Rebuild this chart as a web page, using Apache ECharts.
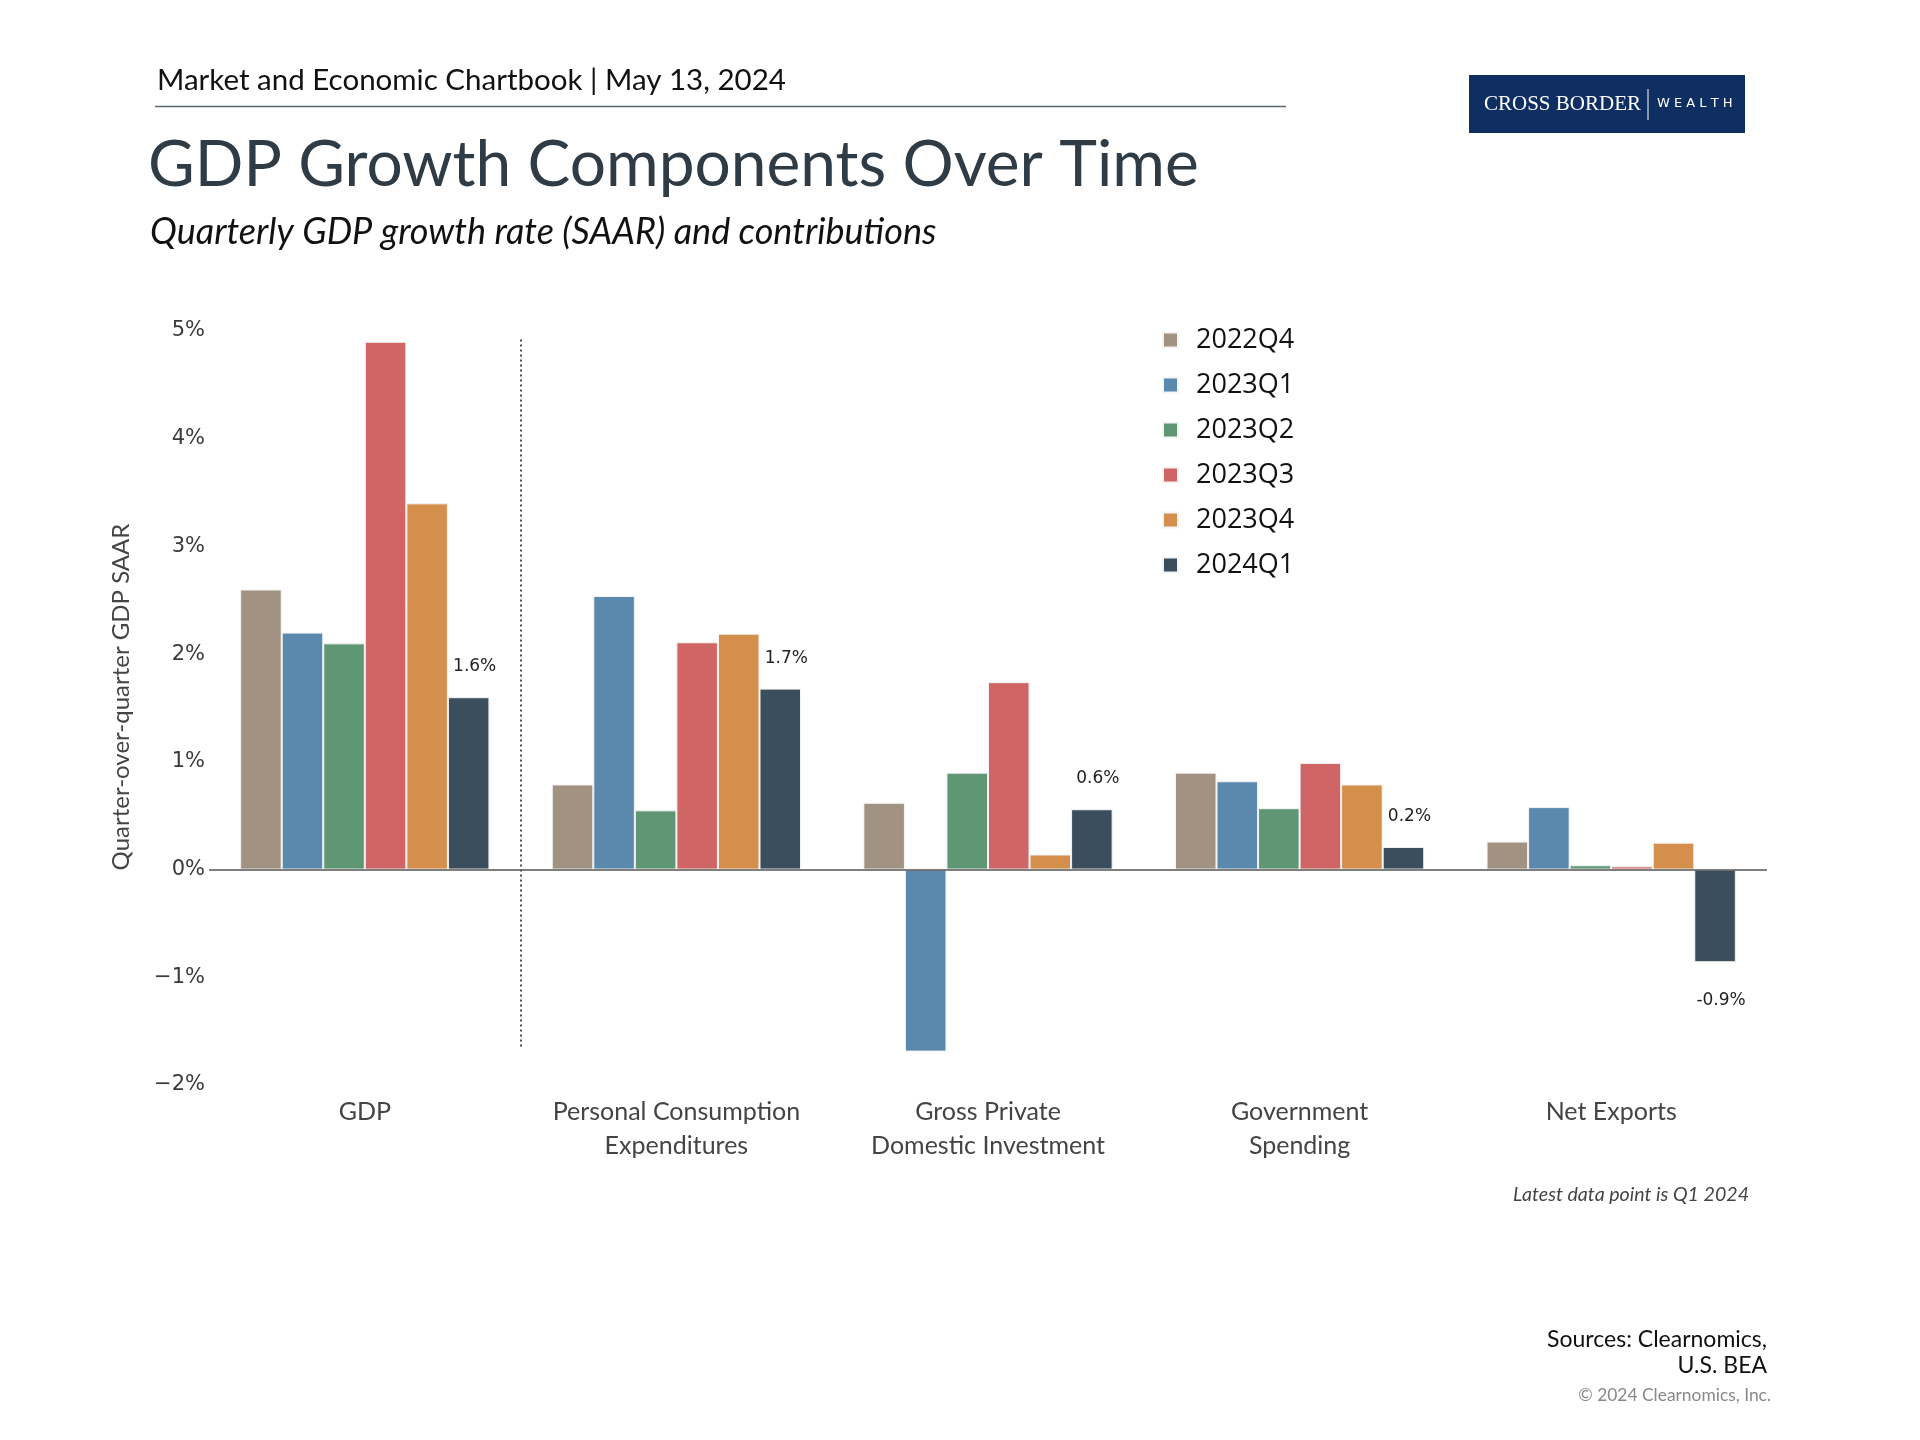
<!DOCTYPE html>
<html>
<head>
<meta charset="utf-8">
<script src="https://cdn.jsdelivr.net/npm/echarts@6/dist/echarts.min.js"></script>
<style>
html,body{margin:0;padding:0;background:#fff;}
#main{width:1920px;height:1440px;}
</style>
</head>
<body>
<div id="main"></div>
<script>
// ---- data ----
const categories = ['GDP', 'Personal Consumption\nExpenditures', 'Gross Private\nDomestic Investment', 'Government\nSpending', 'Net Exports'];
const quarters = ['2022Q4', '2023Q1', '2023Q2', '2023Q3', '2023Q4', '2024Q1'];
const q2022Q4 = [2.6, 0.79, 0.62, 0.90, 0.26];
const q2023Q1 = [2.2, 2.54, -1.69, 0.82, 0.58];
const q2023Q2 = [2.1, 0.55, 0.90, 0.57, 0.04];
const q2023Q3 = [4.9, 2.11, 1.74, 0.99, 0.03];
const q2023Q4 = [3.4, 2.19, 0.14, 0.79, 0.25];
const q2024Q1 = [1.6, 1.68, 0.56, 0.21, -0.86];
const yMin = -2, yMax = 5, yStep = 1;
const dividerX = 1;            // boundary between GDP and components (in category-band units)
const dividerRange = [4.92, -1.66];

// ---- styling ----
const colors = ['#a29282', '#5b88ad', '#5f9673', '#cf6565', '#d48f4c', '#3b4e5e'];
const seriesValues = [q2022Q4, q2023Q1, q2023Q2, q2023Q3, q2023Q4, q2024Q1];
const sans = 'Lato, "Open Sans", sans-serif';

const chart = echarts.init(document.getElementById('main'), null, {renderer: 'canvas'});

const barSeries = quarters.map((q, i) => {
  const last = i === quarters.length - 1;
  return {
    name: q,
    type: 'bar',
    xAxisIndex: 0,
    yAxisIndex: 0,
    barGap: '0%',
    barCategoryGap: '20%',
    z: 3,
    itemStyle: {color: colors[i], borderColor: '#f4f4f4', borderWidth: 1},
    data: seriesValues[i].map(v => {
      if (!last) return v;
      return {
        value: v,
        label: {
          show: true,
          position: v >= 0 ? 'top' : 'bottom',
          distance: v >= 0 ? 22 : 30,
          offset: [6, 0],
          formatter: p => p.value.toFixed(1) + '%',
          fontFamily: '"DejaVu Sans", sans-serif',
          fontSize: 17,
          color: '#222'
        }
      };
    })
  };
});

const option = {
  animation: false,
  backgroundColor: '#ffffff',
  color: colors,
  grid: {left: 209, right: 153, top: 331, bottom: 355, containLabel: false},
  legend: {
    orient: 'vertical',
    left: 1157,
    top: 320,
    icon: 'rect',
    itemWidth: 15,
    itemHeight: 15,
    itemGap: 15,
    data: quarters,
    textStyle: {fontFamily: '"Open Sans", sans-serif', fontSize: 27, color: '#111', lineHeight: 30, padding: [0, 0, 0, 13]}
  },
  xAxis: [{
    type: 'category',
    data: categories,
    axisLine: {show: false, onZero: false},
    axisTick: {show: false},
    axisLabel: {
      fontFamily: sans, fontSize: 25, color: '#444', lineHeight: 34, margin: 10, interval: 0
    }
  }, {
    type: 'value',
    min: 0,
    max: categories.length,
    show: false
  }],
  yAxis: {
    type: 'value',
    min: yMin,
    max: yMax,
    interval: yStep,
    splitLine: {show: false},
    axisLine: {show: false},
    axisTick: {show: false},
    axisLabel: {
      margin: 4,
      fontFamily: '"DejaVu Sans", sans-serif',
      fontSize: 21,
      color: '#3a3a3a',
      formatter: v => (v < 0 ? '\u2212' + Math.abs(v) : v) + '%'
    },
    name: 'Quarter-over-quarter GDP SAAR',
    nameLocation: 'middle',
    nameRotate: 90,
    nameGap: 76,
    nameTextStyle: {fontFamily: sans, fontSize: 24, color: '#444', padding: [0, 0, 0, 22]}
  },
  series: [
    ...barSeries,
    {
      type: 'line',
      xAxisIndex: 1,
      yAxisIndex: 0,
      data: [],
      silent: true,
      z: 1,
      markLine: {
        silent: true,
        symbol: 'none',
        label: {show: false},
        animation: false,
        data: [
          [{coord: [dividerX, dividerRange[0]], lineStyle: {color: '#222', width: 1.6, type: [2, 3]}},
           {coord: [dividerX, dividerRange[1]]}],
          [{coord: [0, 0], lineStyle: {color: '#555', width: 1.5, type: 'solid'}},
           {coord: [categories.length, 0]}]
        ]
      }
    }
  ],
  graphic: [
    {type: 'text', left: 157, top: 65, style: {text: 'Market and Economic Chartbook | May 13, 2024', font: '29.5px Lato, sans-serif', fill: '#111'}},
    {type: 'line', shape: {x1: 155, y1: 106.5, x2: 1286, y2: 106.5}, style: {stroke: '#5a6670', lineWidth: 1.5}},
    {type: 'text', left: 148, top: 133, style: {text: 'GDP Growth Components Over Time', font: '64px Lato, sans-serif', fill: '#2f3b45'}},
    {type: 'text', left: 150, top: 214, style: {text: 'Quarterly GDP growth rate (SAAR) and contributions', font: 'italic 36px Lato, sans-serif', fill: '#111'}},
    {type: 'rect', shape: {x: 1469, y: 75, width: 276, height: 58}, style: {fill: '#0f2f63'}},
    {type: 'text', x: 1484, y: 104, style: {text: 'CROSS BORDER', font: '21px "Liberation Serif", serif', fill: '#ffffff', verticalAlign: 'middle'}},
    {type: 'line', shape: {x1: 1648, y1: 89, x2: 1648, y2: 120}, style: {stroke: '#ffffff', lineWidth: 1}},
    {type: 'text', x: 1657, y: 104, style: {text: 'W E A L T H', font: '13px "DejaVu Sans", sans-serif', fill: '#ffffff', verticalAlign: 'middle'}},
    {type: 'text', x: 1749, y: 1195, style: {text: 'Latest data point is Q1 2024', font: 'italic 19.6px Lato, sans-serif', fill: '#444', align: 'right', verticalAlign: 'middle'}},
    {type: 'text', x: 1767, y: 1340, style: {text: 'Sources: Clearnomics,', font: '23px Lato, sans-serif', fill: '#111', align: 'right', verticalAlign: 'middle'}},
    {type: 'text', x: 1767, y: 1366, style: {text: 'U.S. BEA', font: '23px Lato, sans-serif', fill: '#111', align: 'right', verticalAlign: 'middle'}},
    {type: 'text', x: 1771, y: 1395, style: {text: '\u00A9 2024 Clearnomics, Inc.', font: '17.4px Lato, sans-serif', fill: '#888', align: 'right', verticalAlign: 'middle'}}
  ]
};

chart.setOption(option);
</script>
</body>
</html>
